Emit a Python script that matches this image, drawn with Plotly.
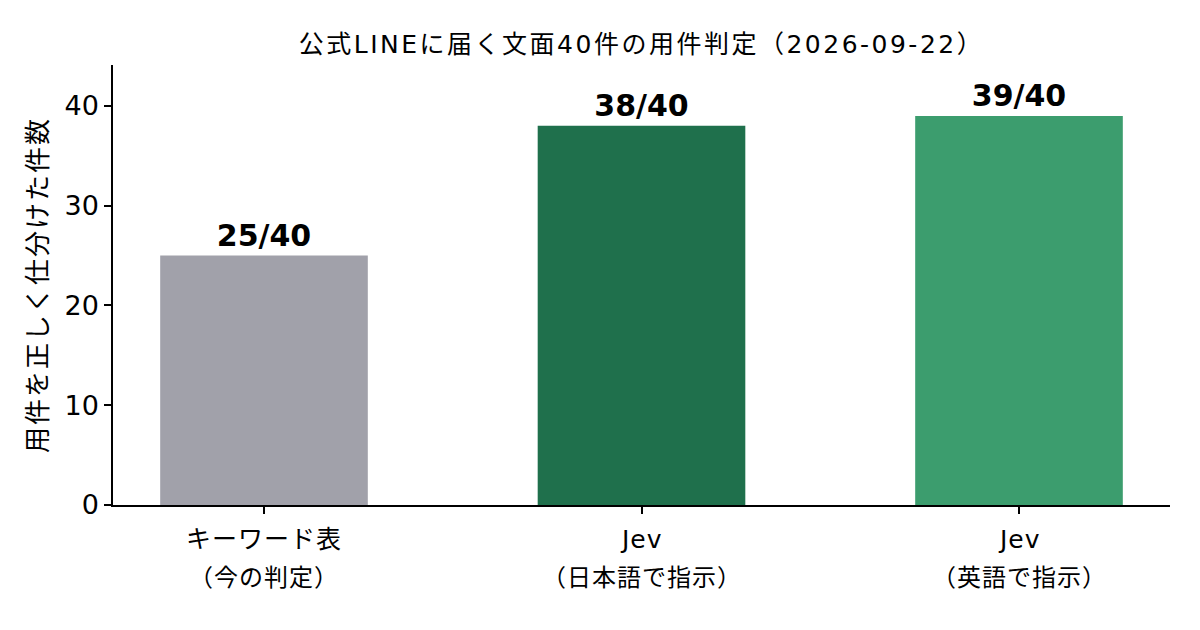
import plotly.graph_objects as go

# 公式LINEの文面40件を判定した結果
kategorie = ["キーワード表", "Jev", "Jev"]
kategorie_sub = ["（今の判定）", "（日本語で指示）", "（英語で指示）"]
seikai = [25, 38, 39]
zentai = 40
iro = ["#A1A1AA", "#1F704C", "#3C9D6E"]

x_pos = list(range(len(seikai)))
labels = [f"{v}/{zentai}" for v in seikai]

JP = "Noto Sans CJK JP"
MIX = "DejaVu Sans, Noto Sans CJK JP"


def spaced(s, px):
    # 字間を少し広げる（元の図のフォントに寄せる）
    return f"<span style='letter-spacing:{px}px'>{s}</span>"


fig = go.Figure()
fig.add_trace(go.Bar(
    x=x_pos, y=seikai,
    width=0.55,
    marker=dict(color=iro, line=dict(width=0)),
    text=labels,
    textposition="outside",
    cliponaxis=False,
    textfont=dict(family="DejaVu Sans", size=30, color="#000000", weight="bold"),
    showlegend=False,
))

# カテゴリ名は2行、行間を広めにとるので注釈で置く
for i in x_pos:
    fig.add_annotation(x=i, y=0, xref="x", yref="paper", text=spaced(kategorie[i], 1),
                       showarrow=False, yanchor="middle", yshift=-34,
                       font=dict(family=MIX, size=25, color="#000000"))
    fig.add_annotation(x=i, y=0, xref="x", yref="paper", text=spaced(kategorie_sub[i], 1),
                       showarrow=False, yanchor="middle", yshift=-73,
                       font=dict(family=MIX, size=24, color="#000000"))

fig.update_layout(
    width=1200, height=630,
    margin=dict(l=105, r=38, t=57, b=133),
    plot_bgcolor="white", paper_bgcolor="white",
    font=dict(family=MIX, color="#000000"),
    title=dict(text=spaced("公式LINEに届く文面40件の用件判定（2026-09-22）", 2.5),
               x=0.5, xref="paper", xanchor="center",
               y=0.943, yanchor="middle",
               font=dict(family=MIX, size=25, color="#000000")),
)
fig.update_xaxes(
    range=[-0.4, 2.4],
    tickvals=x_pos, showticklabels=False,
    ticks="outside", ticklen=7, tickwidth=1.5, tickcolor="#000000",
    showline=True, linecolor="#000000", linewidth=1.5,
    showgrid=False, zeroline=False,
)
fig.update_yaxes(
    range=[0, 44.1],
    tickvals=[0, 10, 20, 30, 40],
    ticks="outside", ticklen=7, tickwidth=1.5, tickcolor="#000000",
    tickfont=dict(family="DejaVu Sans", size=27, color="#000000"),
    showline=True, linecolor="#000000", linewidth=1.5,
    showgrid=False, zeroline=False,
    title=dict(text=spaced("用件を正しく仕分けた件数", 2), standoff=9,
               font=dict(family=JP, size=26, color="#000000")),
)

fig.write_html("out.html")
